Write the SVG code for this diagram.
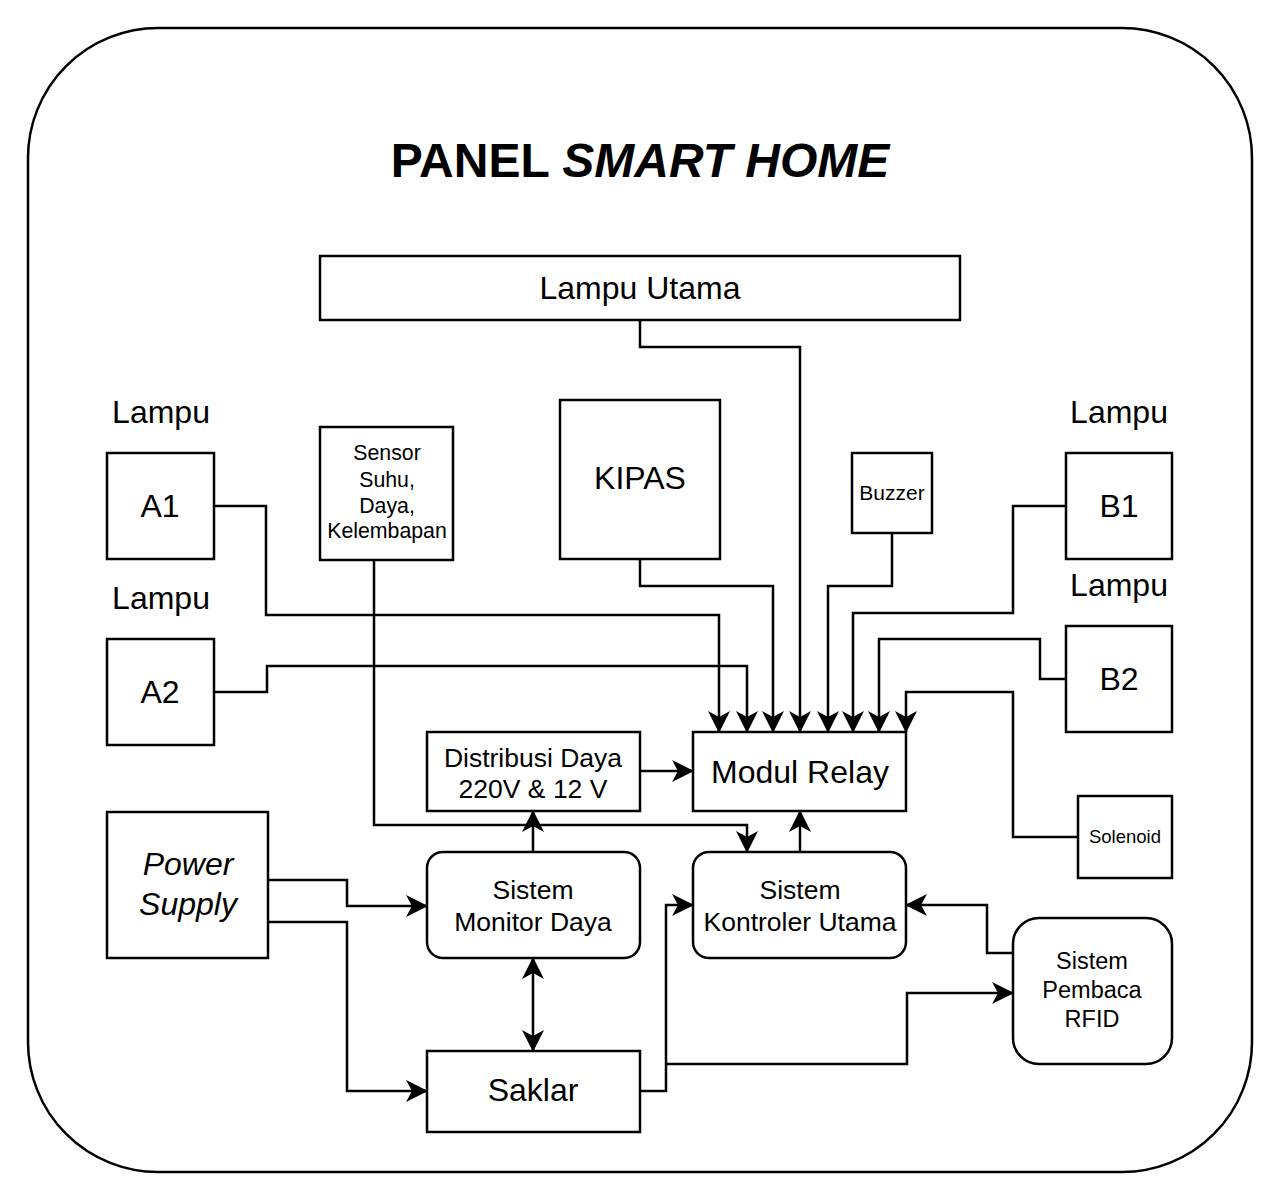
<svg xmlns="http://www.w3.org/2000/svg" width="1280" height="1202" viewBox="0 0 1280 1202">
<style>
.box{fill:#fff;stroke:#000;stroke-width:2.5}
.t{font-family:"Liberation Sans",Arial,sans-serif;fill:#000;text-anchor:middle}
.c{fill:none;stroke:#000;stroke-width:2.5}
.a{marker-end:url(#arr)}
</style>
<defs>
<marker id="arr" viewBox="0 0 22 22" refX="21" refY="11" markerWidth="22" markerHeight="22" markerUnits="userSpaceOnUse" orient="auto-start-reverse">
<path d="M0,0 L22,11 L0,22 L6,11 Z" fill="#000"/>
</marker>
</defs>
<rect x="0" y="0" width="1280" height="1202" fill="#fff"/>
<rect x="28" y="28" width="1224" height="1144" rx="130" ry="130" fill="none" stroke="#000" stroke-width="2.5"/>
<text class="t" x="640" y="177" font-size="48" font-weight="bold">PANEL <tspan font-style="italic">SMART HOME</tspan></text>

<g id="connectors">
<path class="c a" d="M640,320 V347 H800 V732"/>
<path class="c a" d="M640,559 V586 H773 V732"/>
<path class="c a" d="M892,533 V586 H828 V732"/>
<path class="c a" d="M214,506 H266 V615 H719 V732"/>
<path class="c a" d="M214,692 H267 V666 H747 V732"/>
<path class="c a" d="M1066,506 H1013 V613 H853 V732"/>
<path class="c a" d="M1066,679 H1040 V639 H879 V732"/>
<path class="c a" d="M1078,837 H1013 V692 H906 V732"/>
<path class="c a" d="M640,771 H693"/>
<path class="c a" d="M533,852 V811"/>
<path class="c a" d="M800,852 V811"/>
<path class="c a" d="M374,560 V825 H747 V852"/>
<path class="c a" d="M268,880 H347 V906 H427"/>
<path class="c a" d="M268,922 H347 V1091 H427"/>
<path class="c a" d="M533,958 V1051" marker-start="url(#arr)"/>
<path class="c a" d="M640,1091 H666 V905 H693"/>
<path class="c a" d="M666,1064 H907 V993 H1013"/>
<path class="c a" d="M1013,953 H987 V905 H906"/>
</g>

<g id="lampu-utama"><rect class="box" x="320" y="256" width="640" height="64"/><text class="t" x="640" y="299" font-size="32">Lampu Utama</text></g>
<g id="lampu-a1"><text class="t" x="161" y="423" font-size="32">Lampu</text><rect class="box" x="107" y="453" width="107" height="106"/><text class="t" x="160" y="517" font-size="32">A1</text></g>
<g id="lampu-a2"><text class="t" x="161" y="609" font-size="32">Lampu</text><rect class="box" x="107" y="639" width="107" height="106"/><text class="t" x="160" y="703" font-size="32">A2</text></g>
<g id="sensor"><rect class="box" x="320" y="427" width="133" height="133"/>
<text class="t" x="387" y="460" font-size="21.3">Sensor</text>
<text class="t" x="387" y="487" font-size="21.3">Suhu,</text>
<text class="t" x="387" y="513" font-size="21.3">Daya,</text>
<text class="t" x="387" y="538" font-size="21.3">Kelembapan</text></g>
<g id="kipas"><rect class="box" x="560" y="400" width="160" height="159"/><text class="t" x="640" y="489" font-size="32">KIPAS</text></g>
<g id="buzzer"><rect class="box" x="852" y="453" width="80" height="80"/><text class="t" x="892" y="500" font-size="21">Buzzer</text></g>
<g id="lampu-b1"><text class="t" x="1119" y="423" font-size="32">Lampu</text><rect class="box" x="1066" y="453" width="106" height="106"/><text class="t" x="1119" y="517" font-size="32">B1</text></g>
<g id="lampu-b2"><text class="t" x="1119" y="596" font-size="32">Lampu</text><rect class="box" x="1066" y="626" width="106" height="106"/><text class="t" x="1119" y="690" font-size="32">B2</text></g>
<g id="solenoid"><rect class="box" x="1078" y="796" width="94" height="82"/><text class="t" x="1125" y="843" font-size="18.5">Solenoid</text></g>
<g id="distribusi"><rect class="box" x="427" y="732" width="213" height="79"/><text class="t" x="533" y="767" font-size="26.5">Distribusi Daya</text><text class="t" x="533" y="798" font-size="26.5">220V &amp; 12 V</text></g>
<g id="modul-relay"><rect class="box" x="693" y="732" width="213" height="79"/><text class="t" x="800" y="783" font-size="32">Modul Relay</text></g>
<g id="power-supply"><rect class="box" x="107" y="812" width="161" height="146"/><text class="t" x="188" y="875" font-size="32" font-style="italic">Power</text><text class="t" x="188" y="915" font-size="32" font-style="italic">Supply</text></g>
<g id="monitor-daya"><rect class="box" x="427" y="852" width="213" height="106" rx="16"/><text class="t" x="533" y="899" font-size="26.5">Sistem</text><text class="t" x="533" y="931" font-size="26.5">Monitor Daya</text></g>
<g id="kontroler"><rect class="box" x="693" y="852" width="213" height="106" rx="16"/><text class="t" x="800" y="899" font-size="26.5">Sistem</text><text class="t" x="800" y="931" font-size="26.5">Kontroler Utama</text></g>
<g id="saklar"><rect class="box" x="427" y="1051" width="213" height="81"/><text class="t" x="533" y="1101" font-size="32">Saklar</text></g>
<g id="rfid"><rect class="box" x="1013" y="918" width="159" height="146" rx="26"/><text class="t" x="1092" y="969" font-size="23.5">Sistem</text><text class="t" x="1092" y="998" font-size="23.5">Pembaca</text><text class="t" x="1092" y="1027" font-size="23.5">RFID</text></g>
</svg>
